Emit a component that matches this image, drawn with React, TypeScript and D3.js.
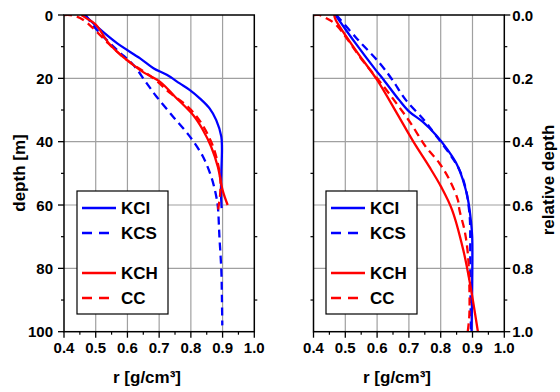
import React from "react";
import * as d3 from "d3";

// ---- data ----
const rhoTicks = [0.4, 0.5, 0.6, 0.7, 0.8, 0.9, 1.0];
const depthTicks = [0, 20, 40, 60, 80, 100];
const relTicks = [0, 0.2, 0.4, 0.6, 0.8, 1.0];

// left panel: depth [m]
const kciDepth = [0, 3.7, 8.9, 13.7, 16.8, 18.9, 21.6, 23.7, 26.3, 29.5, 33.2, 38.4, 42, 50, 56, 61];
const kciRho = [0.465, 0.504, 0.567, 0.64, 0.682, 0.724, 0.765, 0.797, 0.828, 0.859, 0.88, 0.896, 0.898, 0.896, 0.895, 0.897];
const kcsDepth = [0, 4.2, 11, 15.8, 21.6, 25.8, 32.1, 38.4, 44.7, 51, 56.3, 60.5, 70, 80.5, 90, 98];
const kcsRho = [0.468, 0.499, 0.567, 0.619, 0.661, 0.692, 0.744, 0.797, 0.838, 0.864, 0.878, 0.885, 0.89, 0.896, 0.898, 0.899];
const kchDepth = [0, 1, 3, 9.5, 17.4, 21.1, 25.8, 31.6, 36.3, 41.6, 47.9, 55.3, 60];
const kchRho = [0.455, 0.47, 0.5, 0.546, 0.64, 0.703, 0.75, 0.807, 0.838, 0.864, 0.885, 0.9, 0.916];
const ccDepth = [0, 0, 0.5, 1.5, 4, 9, 14.2, 20, 24.7, 28.9, 33.7, 40.5, 46.8, 52, 57, 60, 63];
const ccRho = [0.4, 0.42, 0.44, 0.46, 0.49, 0.54, 0.598, 0.682, 0.735, 0.79, 0.83, 0.866, 0.885, 0.893, 0.892, 0.888, 0.884];

// right panel: relative depth
const kciRel = [0, 0.089, 0.174, 0.205, 0.268, 0.305, 0.337, 0.379, 0.426, 0.468, 0.521, 0.584, 0.65, 0.7, 0.85, 1.0];
const kciRelRho = [0.469, 0.532, 0.596, 0.621, 0.669, 0.701, 0.743, 0.785, 0.822, 0.849, 0.87, 0.886, 0.895, 0.899, 0.899, 0.897];
const kcsRel = [0, 0.074, 0.153, 0.205, 0.268, 0.332, 0.374, 0.437, 0.489, 0.553, 0.605, 0.65, 0.8, 1.0];
const kcsRelRho = [0.472, 0.536, 0.609, 0.648, 0.69, 0.748, 0.78, 0.827, 0.859, 0.88, 0.888, 0.892, 0.893, 0.895];
const kchRel = [0, 0.016, 0.11, 0.205, 0.31, 0.4, 0.479, 0.542, 0.616, 0.742, 0.847, 1.0];
const kchRelRho = [0.465, 0.47, 0.532, 0.6, 0.662, 0.714, 0.764, 0.801, 0.836, 0.871, 0.892, 0.917];
const ccRel = [0, 0, 0.01, 0.03, 0.142, 0.226, 0.29, 0.342, 0.416, 0.468, 0.521, 0.584, 0.616, 0.68, 0.75, 0.85, 0.95, 1.0];
const ccRelRho = [0.4, 0.418, 0.44, 0.47, 0.553, 0.621, 0.669, 0.706, 0.753, 0.796, 0.828, 0.854, 0.859, 0.875, 0.885, 0.89, 0.89, 0.885];

const legendNames = ["KCI", "KCS", "KCH", "CC"];

const FONT = "'Liberation Sans', Arial, Helvetica, sans-serif";
const top = 15;
const bottom = 331.7;

type Series = { name: string; rho: number[]; dep: number[]; color: string; dash?: string };

function Panel({ x0, x1, yMax, yTicks, fmt, side, series, legendX, xTitleX }: any) {
  const x = d3.scaleLinear().domain([0.4, 1.0]).range([x0, x1]);
  const y = d3.scaleLinear().domain([0, yMax]).range([top, bottom]);
  const line = d3
    .line<[number, number]>()
    .x((d) => x(d[0]))
    .y((d) => y(d[1]))
    .curve(d3.curveCatmullRom.alpha(0.5));
  const step = yTicks[1] - yTicks[0];
  const minorY = yTicks.slice(0, -1).map((t: number) => t + step / 2);
  const minorX = rhoTicks.slice(0, -1).map((t) => t + 0.05);
  const axisX = side === "left" ? x0 : x1;
  const dir = side === "left" ? -1 : 1;
  const otherX = side === "left" ? x1 : x0;
  const otherDir = side === "left" ? 1 : -1;
  const clipId = "clip" + side;
  const legendRows = [208, 233, 273, 298];
  return (
    <g>
      <defs>
        <clipPath id={clipId}>
          <rect x={x0} y={top} width={x1 - x0} height={bottom - top} />
        </clipPath>
      </defs>
      {/* grid */}
      {rhoTicks.slice(1, -1).map((t) => (
        <line key={"gx" + t} x1={x(t)} x2={x(t)} y1={top} y2={bottom} stroke="#a0a0a0" strokeWidth={1.2} />
      ))}
      {yTicks.slice(1, -1).map((t: number) => (
        <line key={"gy" + t} x1={x0} x2={x1} y1={y(t)} y2={y(t)} stroke="#a0a0a0" strokeWidth={1.2} />
      ))}
      {/* curves */}
      <g clipPath={`url(#${clipId})`}>
        {series.map((s: Series) => (
          <path
            key={s.name}
            d={line(s.rho.map((r, i) => [r, s.dep[i]] as [number, number])) || ""}
            fill="none"
            stroke={s.color}
            strokeWidth={2.3}
            strokeDasharray={s.dash}
          />
        ))}
      </g>
      {/* frame */}
      <rect x={x0} y={top} width={x1 - x0} height={bottom - top} fill="none" stroke="#000" strokeWidth={1.5} />
      {/* y ticks on value axis side */}
      {yTicks.map((t: number) => (
        <line key={"yt" + t} x1={axisX} x2={axisX + dir * 6} y1={y(t)} y2={y(t)} stroke="#000" strokeWidth={1.3} />
      ))}
      {minorY.map((t: number) => (
        <line key={"ym" + t} x1={axisX} x2={axisX + dir * 3} y1={y(t)} y2={y(t)} stroke="#000" strokeWidth={1.2} />
      ))}
      {minorY.map((t: number) => (
        <line key={"yo" + t} x1={otherX} x2={otherX + otherDir * 3} y1={y(t)} y2={y(t)} stroke="#000" strokeWidth={1.2} />
      ))}
      {yTicks.map((t: number) => (
        <text
          key={"yl" + t}
          x={side === "left" ? x0 - 11 : x1 + 8}
          y={y(t) + 5.5}
          textAnchor={side === "left" ? "end" : "start"}
          fontFamily={FONT}
          fontWeight="bold"
          fontSize={15}
        >
          {fmt(t)}
        </text>
      ))}
      {/* x ticks */}
      {rhoTicks.map((t) => (
        <line key={"xt" + t} x1={x(t)} x2={x(t)} y1={bottom} y2={bottom + 6} stroke="#000" strokeWidth={1.3} />
      ))}
      {minorX.map((t) => (
        <line key={"xm" + t} x1={x(t)} x2={x(t)} y1={bottom} y2={bottom + 3} stroke="#000" strokeWidth={1.2} />
      ))}
      {rhoTicks.map((t) => (
        <text key={"xl" + t} x={x(t)} y={353} textAnchor="middle" fontFamily={FONT} fontWeight="bold" fontSize={15}>
          {d3.format(".1f")(t)}
        </text>
      ))}
      <text x={xTitleX} y={383} textAnchor="middle" fontFamily={FONT} fontWeight="bold" fontSize={17}>
        r [g/cm³]
      </text>
      {/* legend */}
      <rect x={legendX} y={191} width={91} height={123} fill="#fff" stroke="#000" strokeWidth={1.2} />
      {series.map((s: Series, i: number) => (
        <g key={"lg" + s.name}>
          <line
            x1={legendX + 5}
            x2={legendX + 39}
            y1={legendRows[i]}
            y2={legendRows[i]}
            stroke={s.color}
            strokeWidth={2.3}
            strokeDasharray={s.dash ? "10,7" : undefined}
          />
          <text x={legendX + 44} y={legendRows[i] + 6} fontFamily={FONT} fontWeight="bold" fontSize={17}>
            {legendNames[i]}
          </text>
        </g>
      ))}
    </g>
  );
}

export default function App() {
  const dash = "8,5";
  const leftSeries: Series[] = [
    { name: "KCI", rho: kciRho, dep: kciDepth, color: "#0000ff" },
    { name: "KCS", rho: kcsRho, dep: kcsDepth, color: "#0000ff", dash },
    { name: "KCH", rho: kchRho, dep: kchDepth, color: "#ff0000" },
    { name: "CC", rho: ccRho, dep: ccDepth, color: "#ff0000", dash },
  ];
  const rightSeries: Series[] = [
    { name: "KCI", rho: kciRelRho, dep: kciRel, color: "#0000ff" },
    { name: "KCS", rho: kcsRelRho, dep: kcsRel, color: "#0000ff", dash },
    { name: "KCH", rho: kchRelRho, dep: kchRel, color: "#ff0000" },
    { name: "CC", rho: ccRelRho, dep: ccRel, color: "#ff0000", dash },
  ];
  return (
    <svg width={560} height={392} style={{ position: "absolute", left: 0, top: 0, background: "#fff" }}>
      <Panel
        x0={64}
        x1={254.3}
        yMax={100}
        yTicks={depthTicks}
        fmt={(t: number) => String(t)}
        side="left"
        series={leftSeries}
        legendX={77}
        xTitleX={147}
      />
      <Panel
        x0={313.5}
        x1={504.3}
        yMax={1}
        yTicks={relTicks}
        fmt={d3.format(".1f")}
        side="right"
        series={rightSeries}
        legendX={326}
        xTitleX={397}
      />
      <text
        transform="translate(25,173) rotate(-90)"
        textAnchor="middle"
        fontFamily={FONT}
        fontWeight="bold"
        fontSize={17}
      >
        depth [m]
      </text>
      <text
        transform="translate(554,180) rotate(-90)"
        textAnchor="middle"
        fontFamily={FONT}
        fontWeight="bold"
        fontSize={17}
      >
        relative depth
      </text>
    </svg>
  );
}
